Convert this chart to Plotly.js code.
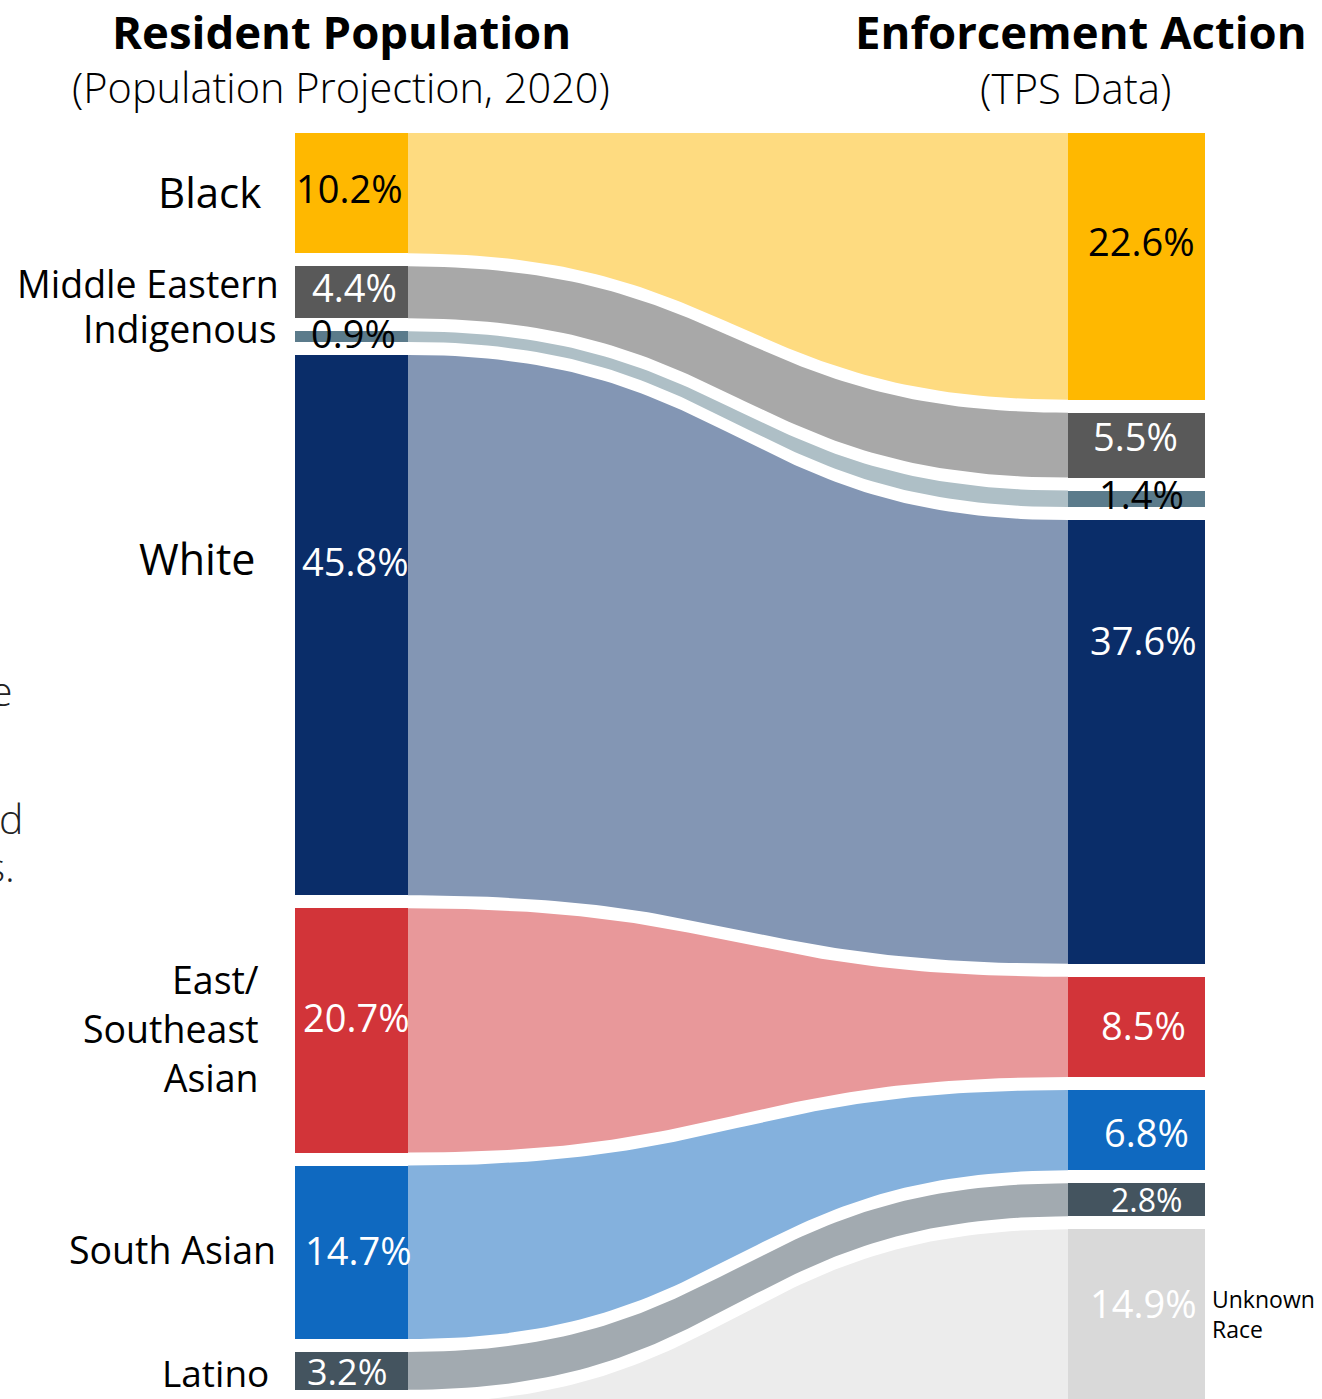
<!DOCTYPE html>
<html>
<head>
<meta charset="utf-8">
<script src="https://cdn.plot.ly/plotly-3.0.1.min.js"></script>
<style>
  html, body { margin: 0; padding: 0; background: #ffffff; overflow: hidden; }
  #chart { width: 1322px; height: 1399px; }
</style>
</head>
<body>
<div id="chart"></div>
<script>
// ---------------- DATA ----------------
const leftGroups = ['Black', 'Middle Eastern', 'Indigenous', 'White', 'East/<br>Southeast<br>Asian', 'South Asian', 'Latino'];
const rightGroups = ['Black', 'Middle Eastern', 'Indigenous', 'White', 'East/Southeast Asian', 'South Asian', 'Latino', 'Unknown<br>Race'];
const populationPct = [10.2, 4.4, 0.9, 45.8, 20.7, 14.7, 3.2];          // Resident Population (Population Projection, 2020)
const enforcementPct = [22.6, 5.5, 1.4, 37.6, 8.5, 6.8, 2.8, 14.9];    // Enforcement Action (TPS Data)
const leftTitle = 'Resident Population';
const leftSubtitle = '(Population Projection, 2020)';
const rightTitle = 'Enforcement Action';
const rightSubtitle = '(TPS Data)';

// ---------------- STYLE ----------------
const nodeColors = ['#FFB800', '#595959', '#5B7B8B', '#0A2D69', '#D23439', '#0F69C0', '#44545F', '#D9D9D9'];
const flowColors = ['#FEDB80', '#A8A8A8', '#AEBFC6', '#8396B4', '#E8989A', '#84B1DD', '#A2AAB0', '#ECECEC'];
const leftPctColors = ['#000', '#fff', '#000', '#fff', '#fff', '#fff', '#fff'];
const rightPctColors = ['#000', '#fff', '#000', '#fff', '#fff', '#fff', '#fff', '#fff'];
const PX_PER_UNIT = 11.8;       // pixels per percentage point
const GAP = 13 / PX_PER_UNIT;   // gap between nodes, in percentage units
const TOP_MARGIN = 133;
const H = 1399, W = 1322;
const LX0 = 295, LX1 = 408, RX0 = 1068, RX1 = 1205;
// label offsets (px) from node centre
const leftNameOffset = [-2, -9, -8, -67, -2, -3, 2];
const leftNameX = [263, 281, 279, 257, 261, 278, 271];
const leftNameSize = [42, 37.5, 37.5, 43, 37.5, 37.5, 37];
const leftPctOffset = [-5, -5, -4, -64, -13, -2, 1];
const leftPctSize = [38, 38, 38, 38, 38, 38, 36];
const leftPctX = [349, 354, 353, 355, 356, 358, 347];
const rightPctOffset = [-25, -9, -5, -102, -2, 2, 0, -14];
const rightPctSize = [38, 38, 38, 38, 38, 38, 32, 38];
const rightPctX = [1141, 1135, 1141, 1143, 1143, 1146, 1146, 1143];

const FONT = '"Open Sans", "Noto Sans", sans-serif';
const pxToUnit = p => p / PX_PER_UNIT;

// ---------------- LAYOUT OF NODES ----------------
function stack(vals) {
  const starts = [];
  let acc = 0;
  vals.forEach((v) => { starts.push(acc); acc += v + GAP; });
  return starts;
}
const leftVals = populationPct.concat([0]); // unknown race has no population share
const leftStarts = stack(leftVals);
const rightStarts = stack(enforcementPct);

// ---------------- FLOWS ----------------
function bez(x0, y0, x1, y1, n) {
  const cx = (x0 + x1) / 2;
  const xs = [], ys = [];
  for (let k = 0; k <= n; k++) {
    const t = k / n, u = 1 - t;
    xs.push(u*u*u*x0 + 3*u*u*t*cx + 3*u*t*t*cx + t*t*t*x1);
    ys.push(y0 + (y1 - y0) * (3*t*t - 2*t*t*t));
  }
  return [xs, ys];
}
const traces = [];
for (let i = 0; i < enforcementPct.length; i++) {
  const lt = leftStarts[i], lb = leftStarts[i] + leftVals[i];
  const rt = rightStarts[i], rb = rightStarts[i] + enforcementPct[i];
  const [tx, ty] = bez(LX1, lt, RX0, rt, 80);
  const [bx, by] = bez(LX1, lb, RX0, rb, 80);
  traces.push({
    type: 'scatter', mode: 'lines',
    x: tx.concat(bx.slice().reverse()),
    y: ty.concat(by.slice().reverse()),
    fill: 'toself', fillcolor: flowColors[i],
    line: { width: 0, color: flowColors[i] },
    hoverinfo: 'skip', showlegend: false
  });
}
// nodes as bars
traces.push({
  type: 'bar', x: populationPct.map(() => (LX0 + LX1) / 2), y: populationPct,
  base: leftStarts.slice(0, populationPct.length), width: LX1 - LX0,
  marker: { color: nodeColors.slice(0, populationPct.length), line: { width: 0 } },
  hoverinfo: 'skip', showlegend: false
});
traces.push({
  type: 'bar', x: enforcementPct.map(() => (RX0 + RX1) / 2), y: enforcementPct,
  base: rightStarts, width: RX1 - RX0,
  marker: { color: nodeColors, line: { width: 0 } },
  hoverinfo: 'skip', showlegend: false
});

// ---------------- ANNOTATIONS ----------------
const ann = [];
const paperY = p => (H - p) / (H - TOP_MARGIN);
ann.push({ xref: 'x', yref: 'paper', x: 341, y: paperY(31), text: '<b>' + leftTitle + '</b>', showarrow: false,
  font: { family: FONT, size: 45.5, color: '#000' }, xanchor: 'center', yanchor: 'middle' });
ann.push({ xref: 'x', yref: 'paper', x: 341, y: paperY(87), text: leftSubtitle, showarrow: false,
  font: { family: FONT, size: 41.5, color: '#000', weight: 300 }, xanchor: 'center', yanchor: 'middle' });
ann.push({ xref: 'x', yref: 'paper', x: 1081, y: paperY(31), text: '<b>' + rightTitle + '</b>', showarrow: false,
  font: { family: FONT, size: 45.5, color: '#000' }, xanchor: 'center', yanchor: 'middle' });
ann.push({ xref: 'x', yref: 'paper', x: 1075, y: paperY(87), text: rightSubtitle, showarrow: false,
  font: { family: FONT, size: 42, color: '#000', weight: 300 }, xanchor: 'center', yanchor: 'middle' });

populationPct.forEach((v, i) => {
  const c = leftStarts[i] + v / 2;
  ann.push({ xref: 'x', yref: 'y', x: leftNameX[i], y: c + pxToUnit(leftNameOffset[i]), text: leftGroups[i],
    showarrow: false, xanchor: 'right', yanchor: 'middle', align: 'right',
    font: { family: FONT, size: leftNameSize[i], color: '#000' } });
  ann.push({ xref: 'x', yref: 'y', x: leftPctX[i], y: c + pxToUnit(leftPctOffset[i]), text: v.toFixed(1) + '%',
    showarrow: false, xanchor: 'center', yanchor: 'middle',
    font: { family: FONT, size: leftPctSize[i], color: leftPctColors[i] } });
});
enforcementPct.forEach((v, i) => {
  const c = rightStarts[i] + v / 2;
  ann.push({ xref: 'x', yref: 'y', x: rightPctX[i], y: c + pxToUnit(rightPctOffset[i]), text: v.toFixed(1) + '%',
    showarrow: false, xanchor: 'center', yanchor: 'middle',
    font: { family: FONT, size: rightPctSize[i], color: rightPctColors[i] } });
});
// Unknown race label to the right of the last node
{
  const i = enforcementPct.length - 1;
  const c = rightStarts[i] + enforcementPct[i] / 2;
  ann.push({ xref: 'x', yref: 'y', x: 1210, y: c + pxToUnit(-3), text: rightGroups[i],
    showarrow: false, xanchor: 'left', yanchor: 'middle', align: 'left',
    font: { family: FONT, size: 23, color: '#000' } });
}
// fragments of neighbouring paragraph text cut by the left edge of the reference image
[['e', 15, 690], ['d', 25, 818], ['s.', 17, 866]].forEach(([t, x, p]) => {
  ann.push({ xref: 'x', yref: 'paper', x: x, y: paperY(p), text: t, showarrow: false,
    xanchor: 'right', yanchor: 'middle', font: { family: FONT, size: 41, color: '#222', weight: 300 } });
});

const layout = {
  width: W, height: H,
  margin: { l: 0, r: 0, t: TOP_MARGIN, b: 0, pad: 0 },
  paper_bgcolor: '#ffffff', plot_bgcolor: '#ffffff',
  barmode: 'overlay', bargap: 0,
  xaxis: { range: [0, W], visible: false, fixedrange: true },
  yaxis: { range: [(H - TOP_MARGIN) / PX_PER_UNIT, 0], visible: false, fixedrange: true },
  annotations: ann,
  showlegend: false
};
Plotly.newPlot('chart', traces, layout, { staticPlot: true, displayModeBar: false });
</script>
</body>
</html>
